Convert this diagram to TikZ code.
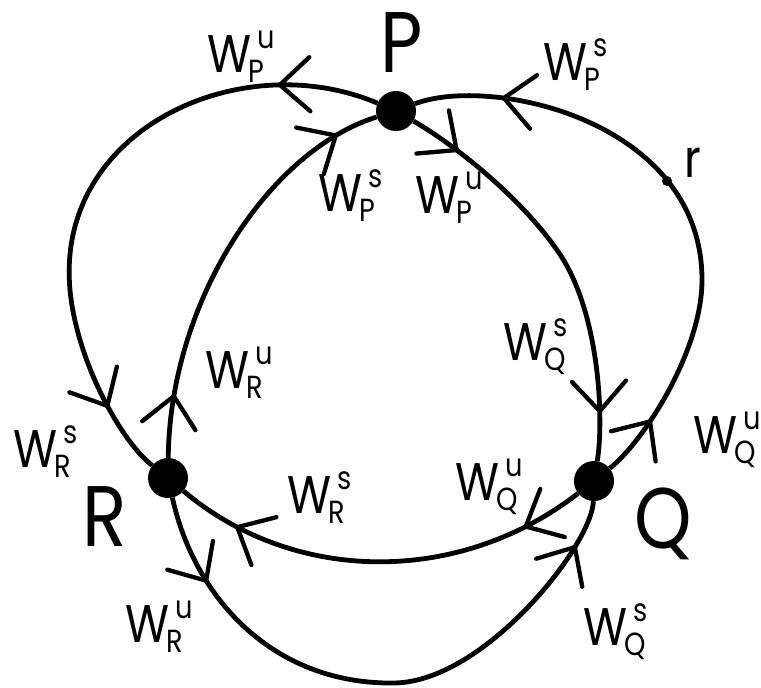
\documentclass[tikz,border=0pt]{standalone}
\usepackage{fontspec}
\setmainfont{Poppins}
\newfontfamily\labfont[FakeStretch=0.85]{Poppins}
\usetikzlibrary{decorations.markings}
\newcommand{\wlab}[2]{{\fontsize{53}{53}\selectfont W}\kern-2pt\rlap{\raisebox{-10pt}{\fontsize{32}{32}\selectfont #1}}\kern9pt\raisebox{24pt}{\fontsize{32}{32}\selectfont #2}}
\newcommand{\chevmark}{\draw[line width=4.3pt, line cap=round, line join=round] (-30pt,27pt) -- (0pt,0pt) -- (-30pt,-27pt);}
\tikzset{
  dot/.style={circle, fill=black, inner sep=0pt, minimum size=40pt},
  smalldot/.style={circle, fill=black, inner sep=0pt, minimum size=10pt},
  curve/.style={line width=4.8pt},
  lab/.style={anchor=base west, inner sep=0pt, outer sep=0pt, font=\labfont},
  big/.style={anchor=base west, inner sep=0pt, outer sep=0pt, font=\labfont\fontsize{86}{86}\selectfont},
  arrs/.style 2 args={postaction={decorate}, decoration={markings,
      mark=at position #1 with {\chevmark},
      mark=at position #2 with {\chevmark}}}
}
\begin{document}
\begin{tikzpicture}[x=1pt,y=-1pt]
\useasboundingbox (0,0) rectangle (761,688);
% fixed points
\node[dot] (P) at (396,111) {};
\node[dot] (Q) at (594,481) {};
\node[dot] (R) at (168,478) {};
\node[smalldot] (rdot) at (667,181) {};
% connectors
\draw[curve, arrs={100pt}{-75pt}] (P) .. controls (240,45) and (55,130) .. (70,290)
   .. controls (76.5,360) and (120,440) .. (R);
\draw[curve, arrs={62pt}{-45pt}] (R) .. controls (170,300) and (270,150) .. (P);
\draw[curve, arrs={52pt}{-50pt}] (P) .. controls (455,145) and (520,197) .. (557,250)
   .. controls (600,310) and (604,420) .. (Q);
\draw[curve, arrs={62pt}{-90pt}] (Q) .. controls (645,440) and (702,350) .. (702,280)
   .. controls (702,120) and (490,75) .. (P);
\draw[curve, arrs={62pt}{-65pt}] (Q) .. controls (460,585) and (295,585) .. (R);
\draw[curve, arrs={90pt}{-50pt}] (R) .. controls (195,600) and (275,685) .. (395,683)
   .. controls (485,681) and (592,545) .. (Q);
% point names
\node[big] (Pl) at (380,72) {P};
\node[big] (Ql) at (634,548) {Q};
\node[big] (Rl) at (82,546) {R};
\node[lab, font=\labfont\fontsize{53}{53}\selectfont] (rl) at (684,177) {r};
% manifold labels
\node[lab] (l1) at (207,72) {\wlab{P}{u}};
\node[lab] (l2) at (318,211) {\wlab{P}{s}};
\node[lab] (l3) at (415,213) {\wlab{P}{u}};
\node[lab] (l4) at (543,80) {\wlab{P}{s}};
\node[lab] (l5) at (205,388) {\wlab{R}{u}};
\node[lab] (l6) at (13,467) {\wlab{R}{s}};
\node[lab] (l7) at (287,513) {\wlab{R}{s}};
\node[lab] (l8) at (125,642) {\wlab{R}{u}};
\node[lab] (l9) at (503,360) {\wlab{Q}{s}};
\node[lab] (l10) at (693,453) {\wlab{Q}{u}};
\node[lab] (l11) at (455,500) {\wlab{Q}{u}};
\node[lab] (l12) at (583,645) {\wlab{Q}{s}};
\end{tikzpicture}
\end{document}
